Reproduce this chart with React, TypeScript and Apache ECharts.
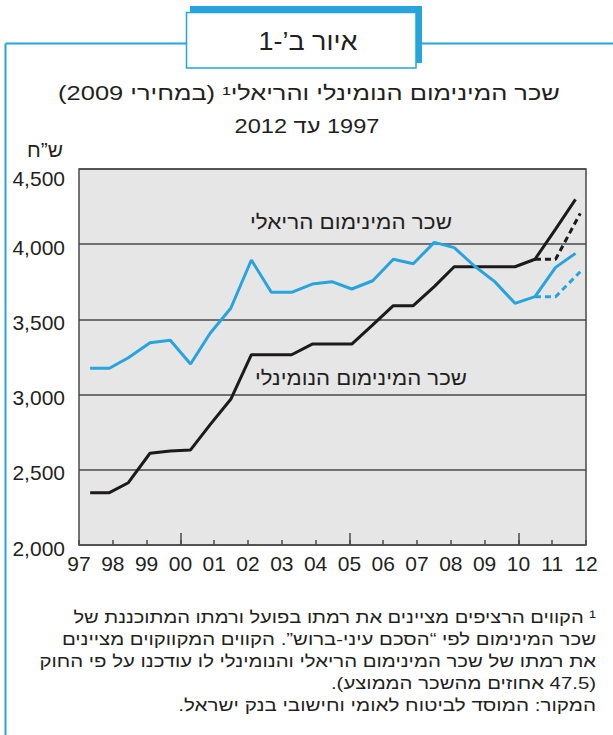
import React, { useEffect, useRef } from "react";
import * as echarts from "echarts";

// ---- data ----
const xPositions = [
  1997.33, 1997.9, 1998.46, 1999.1, 1999.7, 2000.3, 2000.88, 2001.49, 2002.1,
  2002.69, 2003.29, 2003.9, 2004.48, 2005.07, 2005.69, 2006.3, 2006.89,
  2007.51, 2008.1, 2008.7, 2009.3, 2009.9, 2010.49, 2011.1, 2011.69,
];
const realWage = [
  3175, 3175, 3245, 3345, 3361, 3203, 3408, 3574, 3895, 3680, 3680, 3735, 3751,
  3702, 3757, 3900, 3870, 4012, 3977, 3855, 3751, 3607, 3651, 3846, 3939,
];
const nominalWage = [
  2348, 2348, 2414, 2610, 2625, 2632, 2800, 2969, 3265, 3265, 3265, 3336, 3336,
  3336, 3463, 3591, 3591, 3718, 3850, 3850, 3850, 3850, 3900, 4100, 4298,
];
const projX = [2010.49, 2011.1, 2011.83];
const realProj = [3651, 3651, 3817];
const nominalProj = [3900, 3900, 4205];

const xTickLabels = ["97", "98", "99", "00", "01", "02", "03", "04", "05", "06", "07", "08", "09", "10", "11", "12"];
const yTickLabels = ["2,000", "2,500", "3,000", "3,500", "4,000", "4,500"];
const longTickYears = [2000, 2005, 2010];

const figureTitle = "איור ב’-1";
const subtitle1 = "שכר המינימום הנומינלי והריאלי¹ (במחירי 2009)";
const subtitle2 = "1997 עד 2012";
const unitLabel = "ש”ח";
const realLabel = "שכר המינימום הריאלי";
const nominalLabel = "שכר המינימום הנומינלי";
const footnotes = [
  "¹ הקווים הרציפים מציינים את רמתו בפועל ורמתו המתוכננת של",
  "שכר המינימום לפי “הסכם עיני-ברוש”. הקווים המקווקוים מציינים",
  "את רמתו של שכר המינימום הריאלי והנומינלי לו עודכנו על פי החוק",
  "(47.5 אחוזים מהשכר הממוצע).",
  "המקור: המוסד לביטוח לאומי וחישובי בנק ישראל.",
];

const FONT = "'Liberation Sans', Arial, 'DejaVu Sans', sans-serif";
const BLUE = "#27a4dd";
const BLACK = "#1c1a1b";
const GRID = "#4a4a4a";
const TEXT = "#231f20";

const rtl = (s: string) => "\u202B" + s + "\u202C";

let measureCtx: CanvasRenderingContext2D | null = null;
function measure(text: string, size: number): number {
  if (!measureCtx) measureCtx = document.createElement("canvas").getContext("2d");
  if (!measureCtx) return 0;
  measureCtx.font = `${size}px ${FONT}`;
  return measureCtx.measureText(text).width;
}

function txt(text: string, x: number, y: number, size: number, targetWidth: number | null, align = "center", fixedScale?: number) {
  const w = measure(rtl(text), size);
  let sx = 1;
  if (targetWidth && w > 0) sx = targetWidth / w;
  else if (fixedScale) sx = fixedScale;
  return {
    type: "text",
    x,
    y,
    scaleX: sx,
    silent: true,
    style: {
      text: rtl(text),
      x: 0,
      y: 0,
      fill: TEXT,
      fontSize: size,
      fontFamily: FONT,
      align,
      verticalAlign: "middle",
      textAlign: align,
      textVerticalAlign: "middle",
    },
  };
}

export default function App() {
  const ref = useRef<HTMLDivElement>(null);

  useEffect(() => {
    if (!ref.current) return;
    const chart = echarts.init(ref.current, null, { renderer: "svg" });

    const zip = (xs: number[], ys: number[]) => xs.map((x, i) => [x, ys[i]]);

    const footSize = 17;
    const footTargets: (number | null)[] = [523, null, null, null, 418];
    const footScale = (() => {
      const w1 = measure(rtl(footnotes[0]), footSize);
      const w5 = measure(rtl(footnotes[4]), footSize);
      if (!w1 || !w5) return 1;
      return (523 / w1 + 418 / w5) / 2;
    })();

    const graphic: any[] = [
      { type: "line", silent: true, shape: { x1: 5.5, y1: 43.5, x2: 613, y2: 43.5 }, style: { stroke: BLUE, lineWidth: 2 } },
      { type: "line", silent: true, shape: { x1: 5.5, y1: 43.5, x2: 5.5, y2: 735 }, style: { stroke: BLUE, lineWidth: 2 } },
      { type: "rect", silent: true, shape: { x: 190, y: 6, width: 232, height: 57 }, style: { fill: BLUE } },
      { type: "rect", silent: true, shape: { x: 186.5, y: 12.5, width: 229.5, height: 55.5 }, style: { fill: "#ffffff", stroke: BLUE, lineWidth: 1.5 } },
      txt(figureTitle, 308, 41, 25, 99),
      txt(subtitle1, 309, 93, 20, 502),
      txt(subtitle2, 307, 126, 20, 145),
      txt(unitLabel, 45, 150, 20, 36),
      txt(realLabel, 351, 222, 20, 202),
      txt(nominalLabel, 361, 378, 20, 212),
      ...footnotes.map((f, i) => txt(f, 596, 617 + 22 * i, footSize, footTargets[i], "right", footScale)),
    ];

    chart.setOption({
      animation: false,
      backgroundColor: "#ffffff",
      textStyle: { fontFamily: FONT },
      grid: {
        left: 79,
        top: 169,
        width: 507,
        height: 376,
        show: true,
        backgroundColor: "#e6e6e6",
        borderColor: GRID,
        borderWidth: 1.5,
      },
      xAxis: [
        {
          type: "value",
          min: 1997,
          max: 2012,
          interval: 1,
          position: "bottom",
          axisLine: { show: false },
          splitLine: { show: false },
          axisTick: { show: true, inside: true, length: 5, lineStyle: { color: GRID, width: 1.5 } },
          axisLabel: {
            margin: 8,
            fontSize: 21,
            color: TEXT,
            fontFamily: FONT,
            formatter: (v: number) => xTickLabels[Math.round(v - 1997)] ?? "",
          },
        },
        {
          type: "value",
          min: 1997,
          max: 2012,
          position: "bottom",
          offset: 0,
          axisLine: { show: false },
          splitLine: { show: false },
          axisLabel: { show: false },
          axisTick: {
            show: true,
            inside: true,
            length: 12,
            customValues: longTickYears,
            lineStyle: { color: GRID, width: 1.5 },
          },
        },
      ],
      yAxis: {
        type: "value",
        min: 2000,
        max: 4500,
        interval: 500,
        axisLine: { show: false },
        axisTick: { show: false },
        splitLine: { show: true, lineStyle: { color: GRID, width: 1.5 } },
        axisLabel: {
          margin: 14,
          fontSize: 21,
          color: TEXT,
          fontFamily: FONT,
          padding: [6, 0, 0, 0],
          formatter: (v: number) => {
            const idx = Math.round((v - 2000) / 500);
            const s = yTickLabels[idx] ?? "";
            return idx === yTickLabels.length - 1 ? "{mx|" + s + "}" : s;
          },
          rich: {
            mx: { fontSize: 21, color: TEXT, fontFamily: FONT, padding: [12, 0, 0, 0] },
          },
        },
      },
      series: [
        {
          type: "line",
          name: "nominal",
          data: zip(xPositions, nominalWage),
          symbol: "none",
          lineStyle: { color: BLACK, width: 3 },
          z: 3,
        },
        {
          type: "line",
          name: "nominalProj",
          data: zip(projX, nominalProj),
          symbol: "none",
          lineStyle: { color: BLACK, width: 3, type: [6, 4] },
          z: 3,
        },
        {
          type: "line",
          name: "realProj",
          data: zip(projX, realProj),
          symbol: "none",
          lineStyle: { color: BLUE, width: 3, type: [6, 4] },
          z: 4,
        },
        {
          type: "line",
          name: "real",
          data: zip(xPositions, realWage),
          symbol: "none",
          lineStyle: { color: BLUE, width: 3 },
          z: 4,
        },
      ],
      graphic,
    });

    return () => chart.dispose();
  }, []);

  return (
    <div
      ref={ref}
      style={{ position: "fixed", left: 0, top: 0, width: 613, height: 735 }}
    />
  );
}
